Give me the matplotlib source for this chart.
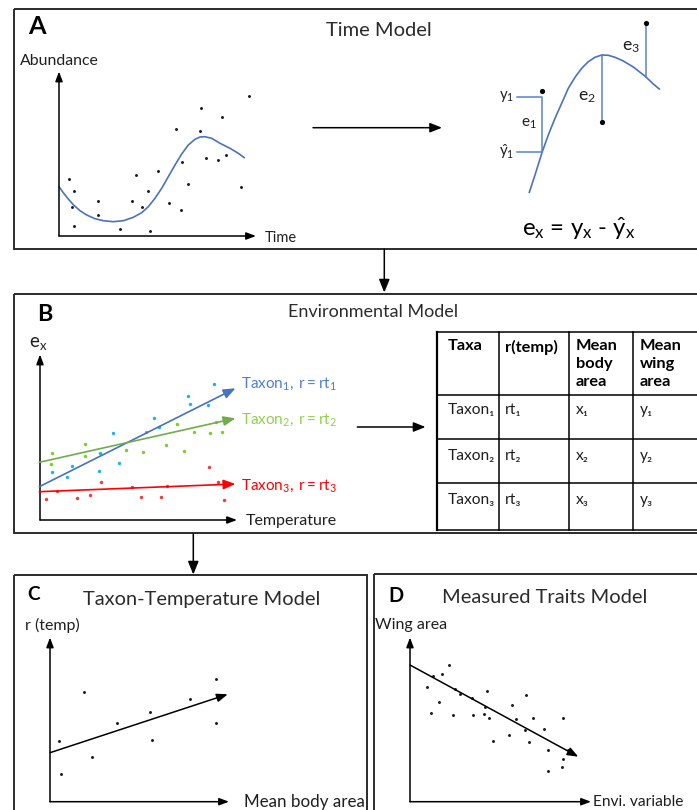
import matplotlib
matplotlib.use('Agg')
import matplotlib.pyplot as plt
from matplotlib.patches import Rectangle

plt.rcParams['font.family'] = ['Lato', 'DejaVu Sans']
plt.rcParams['mathtext.fontset'] = 'custom'
plt.rcParams['mathtext.rm'] = 'Lato'
plt.rcParams['mathtext.it'] = 'Lato:italic'
plt.rcParams['mathtext.bf'] = 'Lato:bold'
plt.rcParams['mathtext.default'] = 'regular'

# ---------------- data (diagram coordinates, pixels of the 697x810 canvas) -------------
# Panel A – abundance through time
time_pts_x = [69, 74.3, 71.7, 74.3, 98.3, 98.3, 119.7, 131.7, 135.7, 142.3, 147.7, 150.3, 158.3,
              169, 175.7, 181, 182.3, 187.7, 199.7, 201, 206.3, 218.3, 222.3, 226.3, 241, 249]
time_pts_y = [179, 191, 207, 225.7, 201.3, 215, 229.3, 201.3, 174.7, 207, 191, 230.7, 171,
              202.7, 129.3, 209.7, 161.7, 184, 130.7, 108, 157.7, 160.3, 117.3, 155, 187, 96.3]
time_fit_x = [59, 63.3, 68.3, 73.3, 80, 86.7, 95, 103.3, 113.3, 123.3, 133.3, 141.7, 148.3, 155,
              161.7, 168.3, 175, 181.7, 188.3, 195, 200, 205, 211.7, 220, 230, 238.3, 244.3]
time_fit_y = [186.7, 192.7, 199, 204.7, 210.7, 215, 218.7, 220.7, 221.7, 220.7, 217.3, 212.7, 206.7,
              198.3, 188.3, 176.7, 165, 154, 145, 139.3, 137, 136.7, 138.3, 143.3, 148.3, 153.3, 157.7]

# Panel A – residual sketch
resid_fit_x = [529.3, 535, 542.3, 548.3, 555, 561.7, 568.3, 575, 581.7, 588.3, 595, 601.7, 608.3,
               615, 623.3, 633.3, 645.7, 653.3, 659.3]
resid_fit_y = [192.3, 175, 151.7, 135, 118.3, 103.3, 88.3, 77.3, 68.3, 61.7, 57.3, 55, 55.3,
               57.3, 61, 67, 76.7, 84, 89]
resid_x = [542.3, 601.7, 645.7]
resid_obs_y = [91, 122.3, 22.7]
resid_hat_y = [151.7, 55, 76.7]
resid_labels = [r'$e_1$', r'$e_2$', r'$e_3$']

# Panel B – residuals vs temperature, three taxa
taxa_names = [r'$Taxon_1,\ r = rt_1$', r'$Taxon_2,\ r = rt_2$', r'$Taxon_3,\ r = rt_3$']
taxa_line_colors = ['#4472C4', '#70AD47', '#FF0000']
taxa_label_colors = ['#4F7FD0', '#92D050', '#FF0000']
taxa_pt_colors = ['#1CB2EC', '#78CE2A', '#EE3B3B']
taxa_line_x = [39.3, 235.5]
taxa_line_y = [[486.7, 388.3], [462.3, 418.3], [491.7, 484.0]]
taxa_label_y = [382.7, 418.3, 485.0]
taxon1_x = [214.3, 188.3, 189.7, 208.3, 154.3, 159, 113.3, 100, 119, 71.7, 51.7, 98.7, 67.3]
taxon1_y = [384.3, 395.7, 403.7, 405.3, 417.7, 426.7, 433.3, 453.3, 462.7, 465.7, 471.7, 470.7, 477.3]
taxon2_x = [216, 176.7, 146, 194.3, 210, 222, 85, 166, 52.3, 126, 143.3, 184, 84.7, 51]
taxon2_y = [421.7, 424, 431.7, 432, 433.3, 431.7, 444, 445, 453, 450.3, 452, 451, 455.7, 464]
taxon3_x = [209, 101, 218.3, 131.7, 167.3, 57.3, 46, 76.7, 90, 141, 161, 223.7]
taxon3_y = [466.7, 481.7, 481.7, 486.7, 485.7, 490.7, 499, 497.7, 494.7, 497.3, 497.3, 500]

# Panel B – summary table
table_header = ['Taxa', 'r(temp)', 'Mean\nbody\narea', 'Mean\nwing\narea']
table_rows = [['Taxon\u2081', 'rt\u2081', 'x\u2081', 'y\u2081'],
              ['Taxon\u2082', 'rt\u2082', 'x\u2082', 'y\u2082'],
              ['Taxon\u2083', 'rt\u2083', 'x\u2083', 'y\u2083']]

# Panel C – r(temp) vs mean body area
taxtemp_x = [216, 83.7, 190.3, 150.3, 117, 216, 59.3, 151.7, 91.7, 60.7]
taxtemp_y = [679.3, 691.7, 699.3, 711.7, 722.7, 722.7, 740.7, 739.7, 757.3, 774.3]
taxtemp_fit_x = [50, 227.7]
taxtemp_fit_y = [752.7, 694.3]

# Panel D – wing area vs environmental variable
traits_x = [449.3, 433.3, 441.7, 426.7, 455, 460, 487.3, 471.7, 525.7, 439, 512.3, 485, 430.7, 453.3,
            473.3, 484, 489.3, 515.7, 533.3, 562.7, 525.3, 544, 493.3, 509.3, 528.7, 548.3, 568.3,
            562.7, 561.7, 548.3]
traits_y = [665, 676, 674, 687.3, 689.3, 694, 691, 698.3, 695.3, 702.3, 704.7, 706.7, 712.7, 715.3,
            715.3, 714, 718.3, 719.3, 718, 718, 730, 729, 741, 735.3, 742, 750.3, 750, 759.3, 767.3,
            771.3]
traits_fit_x = [410, 578.3]
traits_fit_y = [665, 756.7]

# ---------------- drawing ----------------
W, H, DPI = 697, 810, 100
fig = plt.figure(figsize=(W / DPI, H / DPI), dpi=DPI)
ax = fig.add_axes([0, 0, 1, 1])
ax.set_xlim(0, W)
ax.set_ylim(H, 0)
ax.axis('off')
renderer = fig.canvas.get_renderer()

TXT = '#1f1f1f'
TITLE = '#2b2b2b'
BOX = '#2b2b2b'


def fit_text(x, y, s, width, va='center', ha='left', **kw):
    t = ax.text(x, y, s, fontsize=10, va=va, ha=ha, **kw)
    bb = t.get_window_extent(renderer=renderer)
    t.set_fontsize(10 * width / bb.width)
    return t


def arrow(x0, y0, x1, y1, color='black', lw=1.1, hl=8, hw=7):
    k = 72 / DPI
    ax.annotate('', xy=(x1, y1), xytext=(x0, y0),
                arrowprops=dict(arrowstyle=f'-|>,head_length={hl * k:.2f},head_width={hw * k / 2:.2f}',
                                color=color, lw=lw, shrinkA=0, shrinkB=0, mutation_scale=1))


def box(x0, y0, x1, y1):
    ax.add_patch(Rectangle((x0, y0), x1 - x0, y1 - y0, fill=False, ec=BOX, lw=1.4))


# panel frames
box(14, 8.5, 720, 248.8)
box(13.5, 293.5, 720, 533.3)
box(13.5, 575, 366.7, 840)
box(374, 574, 720, 840)

# connecting arrows
arrow(384.3, 249.3, 384.3, 292.5, hl=11, hw=9)
arrow(193.3, 534, 193.3, 574.5, hl=11, hw=9)
arrow(313, 127.7, 442, 127.7, hl=10, hw=8)
arrow(357.3, 427, 425.5, 427, hl=10, hw=8)

# ---- Panel A ----
fit_text(27.7, 26.8, 'A', 17.5, fontweight='bold', color='black')
fit_text(326, 36, 'Time Model', 106, va='baseline', color=TITLE)
fit_text(20, 65, 'Abundance', 79, va='baseline', color=TXT)
arrow(59, 236, 59, 71.5, hl=8, hw=6)
arrow(59, 236, 256, 236, hl=8, hw=6)
fit_text(265, 237.5, 'Time', 32, color=TXT)
ax.scatter(time_pts_x, time_pts_y, s=4.5, color='#1a1a1a', linewidths=0, zorder=3)
ax.plot(time_fit_x, time_fit_y, color='#4C72BD', lw=1.2, solid_capstyle='round')

# residual sketch
RC = '#5A82CC'
ax.plot(resid_fit_x, resid_fit_y, color='#4C72BD', lw=1.2)
ax.plot([516.7, 541.7, 541.7, 516.7], [97.3, 97.3, resid_hat_y[0], resid_hat_y[0]], color=RC, lw=1.1)
ax.plot([resid_x[1], resid_x[1]], [resid_hat_y[1], resid_obs_y[1]], color=RC, lw=1.1)
ax.plot([resid_x[2], resid_x[2]], [resid_hat_y[2], resid_obs_y[2]], color=RC, lw=1.1)
ax.scatter(resid_x, resid_obs_y, s=14, color='black', linewidths=0, zorder=3)
fit_text(499.3, 97, r'$y_1$', 15.5, color=TXT)
fit_text(499.3, 152, r'$\hat{y}_1$', 15.5, color=TXT)
fit_text(521, 124, resid_labels[0], 16, color=TXT)
fit_text(578.3, 97.5, resid_labels[1], 18.5, color=TXT)
fit_text(621.7, 47.5, resid_labels[2], 18.5, color=TXT)
fit_text(521.7, 229, r'$e_x$ = $y_x$ - $\hat{y}_x$', 115, color='black')

# ---- Panel B ----
fit_text(37.3, 314.5, 'B', 15.5, fontweight='bold', color='black')
fit_text(288.3, 316.7, 'Environmental Model', 170, va='baseline', color=TITLE)
fit_text(29.3, 344, r'$e_x$', 19, color=TXT)
arrow(40, 520, 40, 354.5, hl=8, hw=6)
arrow(40, 520, 237, 520, hl=8, hw=6)
fit_text(246, 521, 'Temperature', 92, color=TXT)
for xs, ys, c in [(taxon1_x, taxon1_y, taxa_pt_colors[0]), (taxon2_x, taxon2_y, taxa_pt_colors[1]),
                  (taxon3_x, taxon3_y, taxa_pt_colors[2])]:
    ax.scatter(xs, ys, s=6, color=c, linewidths=0, zorder=3)
for i in range(3):
    arrow(taxa_line_x[0], taxa_line_y[i][0], taxa_line_x[1], taxa_line_y[i][1],
          color=taxa_line_colors[i], lw=1.2, hl=10, hw=8)
    fit_text(240.7, taxa_label_y[i] + 1, taxa_names[i], 96, color=taxa_label_colors[i])

# table
col_x = [436.5, 499.3, 569, 632.5, 720]
row_y = [332, 394.5, 439.3, 483, 529.5]
for yy in row_y:
    ax.plot([col_x[0], col_x[-1]], [yy, yy], color='black', lw=1.1)
for xx in col_x[:-1]:
    ax.plot([xx, xx], [row_y[0], row_y[-1]], color='black', lw=1.1)
ax.plot([col_x[0], col_x[0]], [row_y[0], row_y[-1]], color='black', lw=1.6)
text_x = [448, 505, 576, 640]
ref = ax.text(0, 0, 'r(temp)', fontsize=10, fontweight='bold')
tsize = 10 * 53 / ref.get_window_extent(renderer=renderer).width
ref.remove()
for j, h in enumerate(table_header):
    ax.text(text_x[j], 339.5, h, fontsize=tsize, fontweight='bold', va='top', ha='left',
            color='black', linespacing=1.35)
for i, row in enumerate(table_rows):
    for j, cell in enumerate(row):
        ax.text(text_x[j], [410, 456, 500][i], cell, fontsize=tsize * 0.95, va='center', ha='left',
                color=TXT)

# ---- Panel C ----
fit_text(27.7, 595, 'C', 12.5, fontweight='bold', color='black')
fit_text(83.3, 605, 'Taxon-Temperature Model', 238, va='baseline', color=TITLE)
fit_text(25, 625, 'r (temp)', 55, color=TXT)
arrow(50, 801.7, 50, 637.5, hl=8, hw=6)
arrow(50, 801.7, 229, 801.7, hl=8, hw=6)
fit_text(244.3, 801.5, 'Mean body area', 121, color=TXT)
ax.scatter(taxtemp_x, taxtemp_y, s=4.5, color='#1a1a1a', linewidths=0, zorder=3)
arrow(taxtemp_fit_x[0], taxtemp_fit_y[0], taxtemp_fit_x[1], taxtemp_fit_y[1], lw=1.1, hl=9, hw=7)

# ---- Panel D ----
fit_text(388.3, 596, 'D', 15, fontweight='bold', color='black')
fit_text(441.7, 603.3, 'Measured Traits Model', 206.7, va='baseline', color=TITLE)
fit_text(374.8, 625, 'Wing area', 72, color=TXT)
arrow(410, 801.7, 410, 637.5, hl=8, hw=6)
arrow(410, 801.7, 591, 801.7, hl=8, hw=6)
fit_text(593.3, 801.5, 'Envi. variable', 90, color=TXT)
ax.scatter(traits_x, traits_y, s=4.5, color='#1a1a1a', linewidths=0, zorder=3)
arrow(traits_fit_x[0], traits_fit_y[0], traits_fit_x[1], traits_fit_y[1], lw=1.1, hl=9, hw=7)

fig.savefig('out.png', dpi=DPI)
